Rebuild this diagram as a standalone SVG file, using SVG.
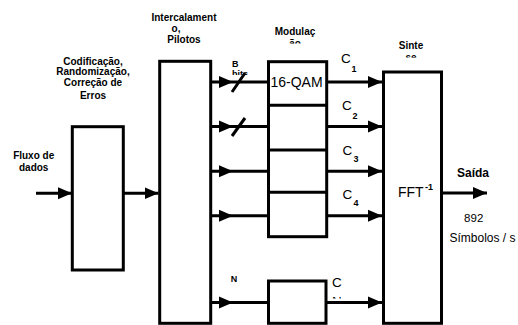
<svg xmlns="http://www.w3.org/2000/svg" width="518" height="325" viewBox="0 0 518 325">
<style>
.box{fill:#fff;stroke:#000;stroke-width:3}
.ln{fill:none;stroke:#000;stroke-width:3}
.t{font-family:"Liberation Sans",Arial,sans-serif;fill:#000}
.b10{font-size:10px;font-weight:bold;text-anchor:middle}
.b9{font-size:9px;font-weight:bold}
.c{font-size:13.5px}
.sub{font-size:9px;font-weight:bold}
</style>
<defs>
<marker id="ah" markerUnits="userSpaceOnUse" markerWidth="16" markerHeight="14" viewBox="0 -7 16 14" refX="14" refY="0" orient="auto">
<path d="M0,-6 L14,0 L0,6 z" fill="#000"/>
</marker>
<clipPath id="clipMod"><rect x="250" y="0" width="100" height="43.5"/></clipPath>
<clipPath id="clipSin"><rect x="380" y="0" width="70" height="57.5"/></clipPath>
<clipPath id="clipBits"><rect x="220" y="0" width="45" height="75"/></clipPath>
<clipPath id="clipN"><rect x="320" y="270" width="40" height="28.5"/></clipPath>
</defs>
<rect width="518" height="325" fill="#fff"/>

<g id="connectors">
<line class="ln" x1="36" y1="193.3" x2="72" y2="193.3" marker-end="url(#ah)"/>
<line class="ln" x1="123" y1="193.3" x2="158.5" y2="193.3" marker-end="url(#ah)"/>
<path class="ln" d="M211,82 H233 H268" marker-mid="url(#ah)"/>
<path class="ln" d="M211,126.5 H233 H268" marker-mid="url(#ah)"/>
<path class="ln" d="M211,171.3 H233 H268" marker-mid="url(#ah)"/>
<path class="ln" d="M211,215.8 H233 H268" marker-mid="url(#ah)"/>
<path class="ln" d="M211,302.5 H233 H268" marker-mid="url(#ah)"/>
<line class="ln" x1="232" y1="92" x2="245" y2="73"/>
<line class="ln" x1="232" y1="136" x2="245" y2="118"/>
<line class="ln" x1="327" y1="82" x2="382" y2="82" marker-end="url(#ah)"/>
<line class="ln" x1="327" y1="126.5" x2="382" y2="126.5" marker-end="url(#ah)"/>
<line class="ln" x1="327" y1="171.3" x2="382" y2="171.3" marker-end="url(#ah)"/>
<line class="ln" x1="327" y1="215.8" x2="382" y2="215.8" marker-end="url(#ah)"/>
<line class="ln" x1="327" y1="302.5" x2="382" y2="302.5" marker-end="url(#ah)"/>
<line class="ln" x1="442" y1="193" x2="487" y2="193" marker-end="url(#ah)"/>
<text class="t b9" x="232" y="67">B</text>
<text class="t b9" x="232" y="76.8" clip-path="url(#clipBits)">bits</text>
<text class="t b9" x="234" y="282" text-anchor="middle">N</text>
<text class="t c" x="341" y="63.3">C</text><text class="t sub" x="351.5" y="72.3">1</text>
<text class="t c" x="342" y="110">C</text><text class="t sub" x="352.5" y="118.5">2</text>
<text class="t c" x="342.5" y="155">C</text><text class="t sub" x="353.5" y="162">3</text>
<text class="t c" x="342.5" y="198.5">C</text><text class="t sub" x="353.5" y="205.5">4</text>
<text class="t c" x="332" y="286.5">C</text>
<text class="t c" x="332" y="306" clip-path="url(#clipN)">N</text>
</g>

<g id="node-input">
<text class="t b10" x="33.7" y="158.5">Fluxo de</text>
<text class="t b10" x="33.7" y="170.7">dados</text>
</g>

<g id="node-coding">
<rect class="box" x="72.3" y="126.7" width="51" height="143.3"/>
<text class="t b10" x="93" y="64.5">Codificação,</text>
<text class="t b10" x="93" y="75">Randomização,</text>
<text class="t b10" x="93" y="85.5">Correção de</text>
<text class="t b10" x="93" y="99">Erros</text>
</g>

<g id="node-interleave">
<rect class="box" x="159.7" y="61.3" width="51" height="262"/>
<text class="t b10" x="184" y="20.7">Intercalament</text>
<text class="t b10" x="176" y="31.7">o,</text>
<text class="t b10" x="184" y="42.7">Pilotos</text>
</g>

<g id="node-mod">
<rect class="box" x="268.5" y="61.7" width="58.2" height="175"/>
<line class="ln" x1="268.5" y1="105.3" x2="326.7" y2="105.3"/>
<line class="ln" x1="268.5" y1="150" x2="326.7" y2="150"/>
<line class="ln" x1="268.5" y1="192.3" x2="326.7" y2="192.3"/>
<text class="t" x="296.5" y="86.5" font-size="14" text-anchor="middle">16-QAM</text>
<text class="t b10" x="295" y="34.5">Modulaç</text>
<text class="t b10" x="295" y="46.5" clip-path="url(#clipMod)">ão</text>
</g>

<g id="node-modN">
<rect class="box" x="268.5" y="281" width="57.5" height="42.3"/>
</g>

<g id="node-fft">
<rect class="box" x="383.5" y="72" width="58" height="251.3"/>
<text class="t" x="398" y="196.7" font-size="14">FFT</text>
<text class="t sub" x="425" y="189.5">-1</text>
<text class="t b10" x="411" y="49.3">Sinte</text>
<text class="t b10" x="411" y="61" clip-path="url(#clipSin)">se</text>
</g>

<g id="node-output">
<text class="t" x="473" y="177.3" font-size="12" font-weight="bold" text-anchor="middle">Saída</text>
<text class="t" x="473.7" y="221.7" font-size="11.5" text-anchor="middle">892</text>
<text class="t" x="449.5" y="241.7" font-size="12">Símbolos / s</text>
</g>
</svg>
